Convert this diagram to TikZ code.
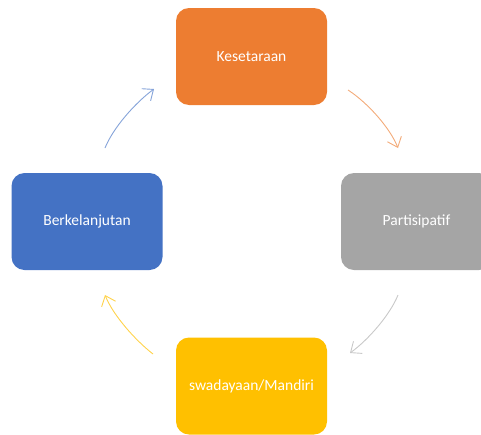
\documentclass[tikz,border=0pt]{standalone}
\usepackage{fontspec}
\setmainfont{Carlito}
\usepackage{tikz}
\usetikzlibrary{arrows.meta}

\definecolor{oranye}{HTML}{ED7D31}
\definecolor{abu}{HTML}{A5A5A5}
\definecolor{kuning}{HTML}{FFC000}
\definecolor{biru}{HTML}{4472C4}

\begin{document}
\begin{tikzpicture}[
    x=1pt, y=-1pt,
    >={Straight Barb[length=9pt,width=15pt]},
    kotak/.style={
        rounded corners=13pt,
        minimum width=151pt,
        minimum height=97pt,
        text=white,
        font=\fontsize{15.5}{18}\selectfont
    },
    panah/.style={->, line width=0.9pt}
]

    % Batas gambar
    \useasboundingbox (0,0) rectangle (481,434);
    \clip (0,0) rectangle (481,434);

    % Kotak
    \node[kotak, fill=oranye] (kesetaraan) at (251.5,56.5) {Kesetaraan};
    \node[kotak, fill=abu] (partisipatif) at (416.5,221.5) {Partisipatif};
    \node[kotak, fill=kuning] (mandiri) at (251.5,386) {swadayaan/Mandiri};
    \node[kotak, fill=biru] (berkelanjutan) at (87,221.5) {Berkelanjutan};

    % Ujung panah
    \coordinate (a1) at (348,90);
    \coordinate (a2) at (398,148);
    \coordinate (b1) at (398,295);
    \coordinate (b2) at (350,353);
    \coordinate (c1) at (153,354);
    \coordinate (c2) at (105,295);
    \coordinate (d1) at (105,148);
    \coordinate (d2) at (154,89);

    % Panah melengkung
    \draw[panah, oranye!65] (a1) .. controls (368,103) and (390,128) .. (a2);
    \draw[panah, abu!60] (b1) .. controls (390,315) and (368,340) .. (b2);
    \draw[panah, kuning!70] (c1) .. controls (135,340) and (113,315) .. (c2);
    \draw[panah, biru!65] (d1) .. controls (113,128) and (135,103) .. (d2);

\end{tikzpicture}
\end{document}
